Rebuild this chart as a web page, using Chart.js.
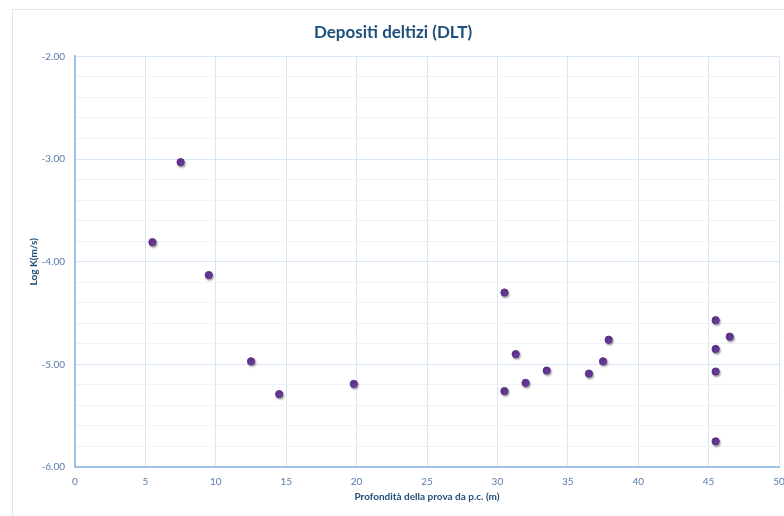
<!DOCTYPE html>
<html>
<head>
<meta charset="utf-8">
<script src="https://cdn.jsdelivr.net/npm/chart.js@4.4.1/dist/chart.umd.min.js"></script>
<style>
  html, body { margin: 0; padding: 0; background: #fff; overflow: hidden; }
  #frame { position: absolute; left: 12px; top: 9px; width: 800px; height: 540px; border: 1px solid #dde7f3; }
  #wrap { position: absolute; left: 0; top: 0; width: 800px; height: 516px; }
</style>
</head>
<body>
<div id="frame"></div>
<div id="wrap"><canvas id="chart" width="800" height="516"></canvas></div>
<script>
// profondità (m) e Log K (m/s)
const depth = [5.5, 7.5, 9.5, 12.5, 14.5, 19.8, 30.5, 30.5, 31.3, 32.0, 33.5, 36.5, 37.5, 37.9, 45.5, 46.5, 45.5, 45.5, 45.5];
const logK  = [-3.81, -3.03, -4.13, -4.97, -5.29, -5.19, -4.30, -5.26, -4.90, -5.18, -5.06, -5.09, -4.97, -4.76, -4.57, -4.73, -4.85, -5.07, -5.75];
const xTicks = [0, 5, 10, 15, 20, 25, 30, 35, 40, 45, 50];
const yTicks = [-6, -5, -4, -3, -2];

const points = depth.map((d, i) => ({ x: d, y: logK[i] }));
const isMajor = v => Math.abs(v - Math.round(v)) < 1e-6;

const shadow = {
  id: 'shadow',
  beforeDatasetsDraw(chart) {
    const c = chart.ctx;
    c.save();
    c.shadowColor = 'rgba(0,0,0,0.35)';
    c.shadowBlur = 2;
    c.shadowOffsetX = 1;
    c.shadowOffsetY = 1.5;
  },
  afterDatasetsDraw(chart) { chart.ctx.restore(); }
};

new Chart(document.getElementById('chart'), {
  type: 'scatter',
  data: {
    datasets: [{
      data: points,
      backgroundColor: '#6a3a9a',
      borderColor: '#5b2d8a',
      borderWidth: 1,
      pointRadius: 3.6
    }]
  },
  plugins: [shadow],
  options: {
    responsive: false,
    animation: false,
    layout: { padding: { left: 7, right: 21, top: 0, bottom: 0 } },
    plugins: {
      legend: { display: false },
      tooltip: { enabled: false },
      title: {
        display: true,
        text: 'Depositi deltizi (DLT)',
        color: '#1f4e79',
        font: { family: 'Lato', size: 17, weight: 'bold' },
        padding: { top: 22, bottom: 14 }
      }
    },
    scales: {
      x: {
        type: 'linear',
        min: 0, max: 50,
        afterBuildTicks: s => { s.ticks = xTicks.map(v => ({ value: v })); },
        afterFit: s => { s.height = 49; },
        ticks: { color: '#5a7bab', font: { family: 'Lato', size: 10 }, padding: 9, maxRotation: 0 },
        grid: { color: '#d9e6f5', lineWidth: 1, drawTicks: false },
        border: { color: '#9dc3e6', width: 2 },
        title: {
          display: true,
          text: 'Profondità della prova da p.c. (m)',
          color: '#1f4e79',
          font: { family: 'Lato', size: 10, weight: 'bold' },
          padding: { top: 0, bottom: 13 }
        }
      },
      y: {
        min: -6, max: -2,
        afterFit: s => { s.width = 68; },
        ticks: {
          stepSize: 0.2,
          autoSkip: false,
          color: '#5a7bab',
          font: { family: 'Lato', size: 10 },
          padding: 10,
          callback: v => isMajor(v) && yTicks.includes(Math.round(v)) ? Math.round(v).toFixed(2) : ''
        },
        grid: {
          drawTicks: false,
          color: c => isMajor(c.tick.value) ? '#d9e6f5' : '#eef3fa'
        },
        border: { color: '#9dc3e6', width: 2 },
        title: {
          display: true,
          text: 'Log K(m/s)',
          color: '#1f4e79',
          font: { family: 'Lato', size: 10, weight: 'bold' },
          padding: { top: 21, bottom: 0 }
        }
      }
    }
  }
});
</script>
</body>
</html>
